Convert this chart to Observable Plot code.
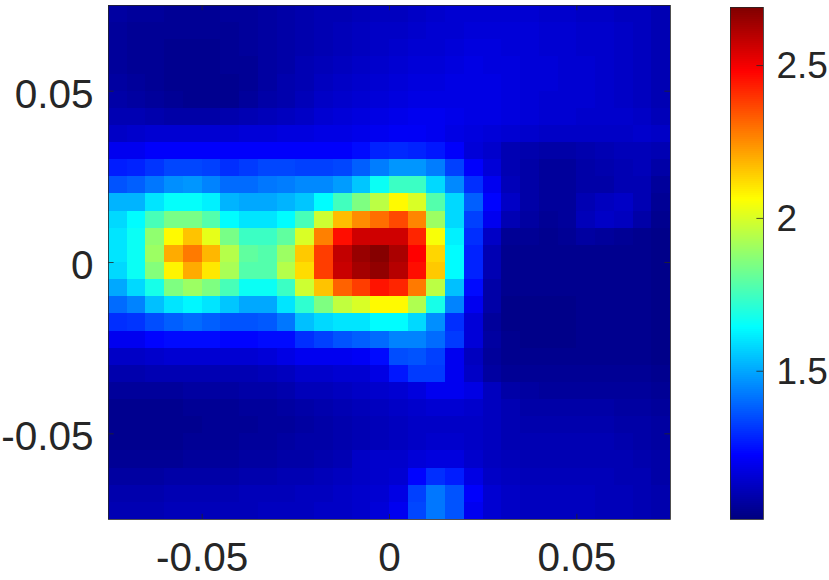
<!DOCTYPE html>
<html>
<head>
<meta charset="utf-8">
<script src="https://cdn.jsdelivr.net/npm/d3@7"></script>
<script src="https://cdn.jsdelivr.net/npm/@observablehq/plot@0.6"></script>
<style>
html,body{margin:0;padding:0;background:#fff;overflow:hidden}
#wrap{position:relative;width:829px;height:580px}
#wrap svg{position:absolute;left:0;top:0;background:transparent}
</style>
</head>
<body>
<div id="wrap"></div>
<script>
// Values in hundredths, top row first
const grid = [
[107,106,106,105,105,105,106,106,107,108,109,110,110,111,112,112,113,114,115,115,115,115,115,114,114,113,113,112,112,110],
[106,105,105,105,105,105,105,106,107,108,109,110,111,112,113,113,114,115,115,116,116,116,116,115,115,114,114,113,112,110],
[106,105,105,104,104,104,105,106,107,108,109,110,111,112,113,114,115,115,116,117,117,116,116,115,115,114,114,113,112,110],
[106,105,105,104,104,104,105,105,107,108,110,111,112,113,114,115,116,116,117,118,117,117,116,116,115,115,114,113,112,110],
[107,106,105,104,104,104,104,105,107,109,110,112,113,114,115,116,117,117,118,118,118,117,116,116,115,115,114,113,112,110],
[108,107,106,105,104,104,104,106,108,109,111,113,114,115,116,117,118,118,118,118,118,117,116,115,115,115,114,113,112,110],
[110,110,109,108,108,108,109,110,111,112,113,115,116,117,118,119,120,120,119,118,118,117,116,115,115,114,114,114,113,111],
[113,114,115,115,115,115,115,116,116,117,117,118,118,119,120,121,121,120,118,117,116,115,114,113,113,113,113,113,114,113],
[120,120,122,122,122,122,122,122,122,122,122,122,122,124,128,129,128,126,122,116,114,110,109,108,108,109,110,111,111,110],
[127,128,131,134,134,133,130,132,134,134,133,133,134,138,143,147,147,143,133,122,116,110,108,106,106,108,109,110,111,108],
[136,138,142,146,147,144,140,140,142,143,145,145,148,155,166,174,174,158,145,130,120,111,108,106,106,108,108,110,110,106],
[152,152,160,165,165,162,152,150,150,152,155,164,175,185,195,207,200,178,158,138,123,113,108,106,106,110,112,113,110,105],
[158,164,176,184,184,178,164,160,160,164,176,198,217,225,230,236,226,190,158,133,120,110,107,105,106,111,113,112,108,104],
[160,166,188,207,216,202,184,174,174,180,200,227,246,256,256,256,242,205,162,130,113,105,105,104,105,107,106,105,104,103],
[160,166,190,220,228,218,194,180,178,190,215,238,258,265,268,262,248,213,164,128,110,104,104,104,104,104,104,104,104,103],
[158,166,186,208,220,210,192,178,178,194,212,238,257,263,266,260,246,215,164,128,110,104,104,104,104,104,104,104,104,103],
[150,158,168,185,190,185,176,166,166,174,198,216,232,238,245,242,228,195,154,124,108,104,104,104,104,104,104,104,104,103],
[140,144,154,160,163,160,155,150,150,160,172,185,196,200,207,207,193,168,144,120,108,103,103,103,103,104,104,104,104,103],
[130,131,135,138,140,138,136,136,137,142,154,158,160,160,164,164,158,146,130,116,106,103,103,103,103,104,104,104,104,103],
[120,120,123,124,124,124,123,123,124,124,130,133,136,138,140,144,144,140,132,116,107,104,103,103,103,104,104,104,104,103],
[113,113,114,115,115,115,115,115,116,118,120,120,120,121,124,135,136,133,120,112,106,104,104,104,104,104,104,104,104,103],
[109,109,110,110,110,110,110,110,111,112,114,114,115,115,118,126,132,132,120,113,107,105,105,105,105,105,105,105,105,104],
[106,106,106,106,107,107,107,108,108,109,111,111,112,113,114,115,117,120,120,118,112,108,107,106,106,106,106,106,106,105],
[104,104,104,104,105,105,105,106,106,107,108,109,110,111,112,113,114,115,115,114,112,110,108,108,108,108,108,107,107,106],
[104,104,104,104,104,105,105,105,106,106,107,108,109,110,111,112,113,113,113,113,112,110,109,109,109,109,109,108,108,107],
[104,104,104,104,105,105,105,106,106,107,108,108,109,110,111,112,113,114,114,113,112,110,110,110,110,110,110,109,108,107],
[105,105,105,105,106,106,106,107,107,108,108,109,110,113,114,114,116,117,117,114,112,111,110,110,110,110,110,110,109,108],
[107,107,107,108,108,108,108,109,109,110,110,111,112,113,114,115,123,130,127,118,113,112,111,111,111,111,111,110,110,108],
[109,109,109,110,110,110,110,111,111,111,112,112,113,114,115,118,133,142,136,122,115,113,112,112,112,112,111,111,110,109],
[110,110,110,111,111,111,111,111,112,112,112,113,113,114,116,120,134,142,136,120,115,113,112,112,112,112,111,111,110,109]
];
const xTicks = [-0.05, 0, 0.05];
const yTicks = [-0.05, 0, 0.05];
const barTicks = [1.5, 2, 2.5];
const extent = 0.075;
const colorMin = 1.015;
const colorMax = 2.69;
const axisColor = "#262626";
const font = '"Liberation Sans", Arial, sans-serif';

// MATLAB jet
function jet(t) {
  const c = v => Math.round(255 * Math.max(0, Math.min(1, v)));
  const r = 1.5 - Math.abs(4 * t - 3);
  const g = 1.5 - Math.abs(4 * t - 2);
  const b = 1.5 - Math.abs(4 * t - 1);
  return `rgb(${c(r)},${c(g)},${c(b)})`;
}

const n = grid.length;
const step = 2 * extent / n;
const cells = grid.flatMap((row, r) => row.map((v, c) => ({
  x1: -extent + c * step, x2: -extent + (c + 1) * step,
  y1: extent - r * step, y2: extent - (r + 1) * step, v: v / 100
})));

const chart = Plot.plot({
  width: 829, height: 580,
  marginLeft: 108, marginRight: 159, marginTop: 5, marginBottom: 61,
  style: {fontFamily: font, background: "transparent"},
  x: {domain: [-extent, extent], label: null},
  y: {domain: [-extent, extent], label: null},
  color: {type: "linear", domain: [colorMin, colorMax], interpolate: (a, b) => jet},
  marks: [
    Plot.rect(cells, {x1: "x1", x2: "x2", y1: "y1", y2: "y2", fill: "v", shapeRendering: "crispEdges"}),
    Plot.frame({stroke: axisColor, strokeWidth: 0.8}),
    Plot.ruleX(xTicks, {y1: -extent, y2: -extent + 0.0015, stroke: axisColor, strokeWidth: 0.8}),
    Plot.ruleX(xTicks, {y1: extent, y2: extent - 0.0015, stroke: axisColor, strokeWidth: 0.8}),
    Plot.ruleY(yTicks, {x1: -extent, x2: -extent + 0.0015, stroke: axisColor, strokeWidth: 0.8}),
    Plot.ruleY(yTicks, {x1: extent, x2: extent - 0.0015, stroke: axisColor, strokeWidth: 0.8}),
    Plot.axisX(xTicks, {tickSize: 0, tickPadding: 23, fontSize: 40.5, color: axisColor, fill: axisColor, tickFormat: d => String(d), label: null}),
    Plot.axisY(yTicks, {tickSize: 0, tickPadding: 15, fontSize: 40.5, dy: 3.5, color: axisColor, fill: axisColor, tickFormat: d => String(d), label: null})
  ]
});

const levels = d3.range(256).map(i => ({
  y1: colorMin + (colorMax - colorMin) * i / 256,
  y2: colorMin + (colorMax - colorMin) * (i + 1) / 256,
  t: (i + 0.5) / 256
}));

const bar = Plot.plot({
  width: 829, height: 580,
  marginLeft: 730, marginRight: 66, marginTop: 7, marginBottom: 61,
  style: {fontFamily: font, background: "transparent"},
  x: {domain: [0, 1], axis: null},
  y: {domain: [colorMin, colorMax], label: null, axis: null},
  marks: [
    Plot.rect(levels, {x1: 0, x2: 1, y1: "y1", y2: "y2", fill: d => jet(d.t), shapeRendering: "crispEdges"}),
    Plot.frame({stroke: axisColor, strokeWidth: 0.8}),
    Plot.ruleY(barTicks, {x1: 0.8, x2: 1, stroke: axisColor, strokeWidth: 0.8}),
    Plot.axisY(barTicks, {anchor: "right", tickSize: 0, tickPadding: 13, fontSize: 37, dy: 1, color: axisColor, fill: axisColor, tickFormat: d => String(d), label: null})
  ]
});

const wrap = document.getElementById("wrap");
wrap.append(chart, bar);
</script>
</body>
</html>
